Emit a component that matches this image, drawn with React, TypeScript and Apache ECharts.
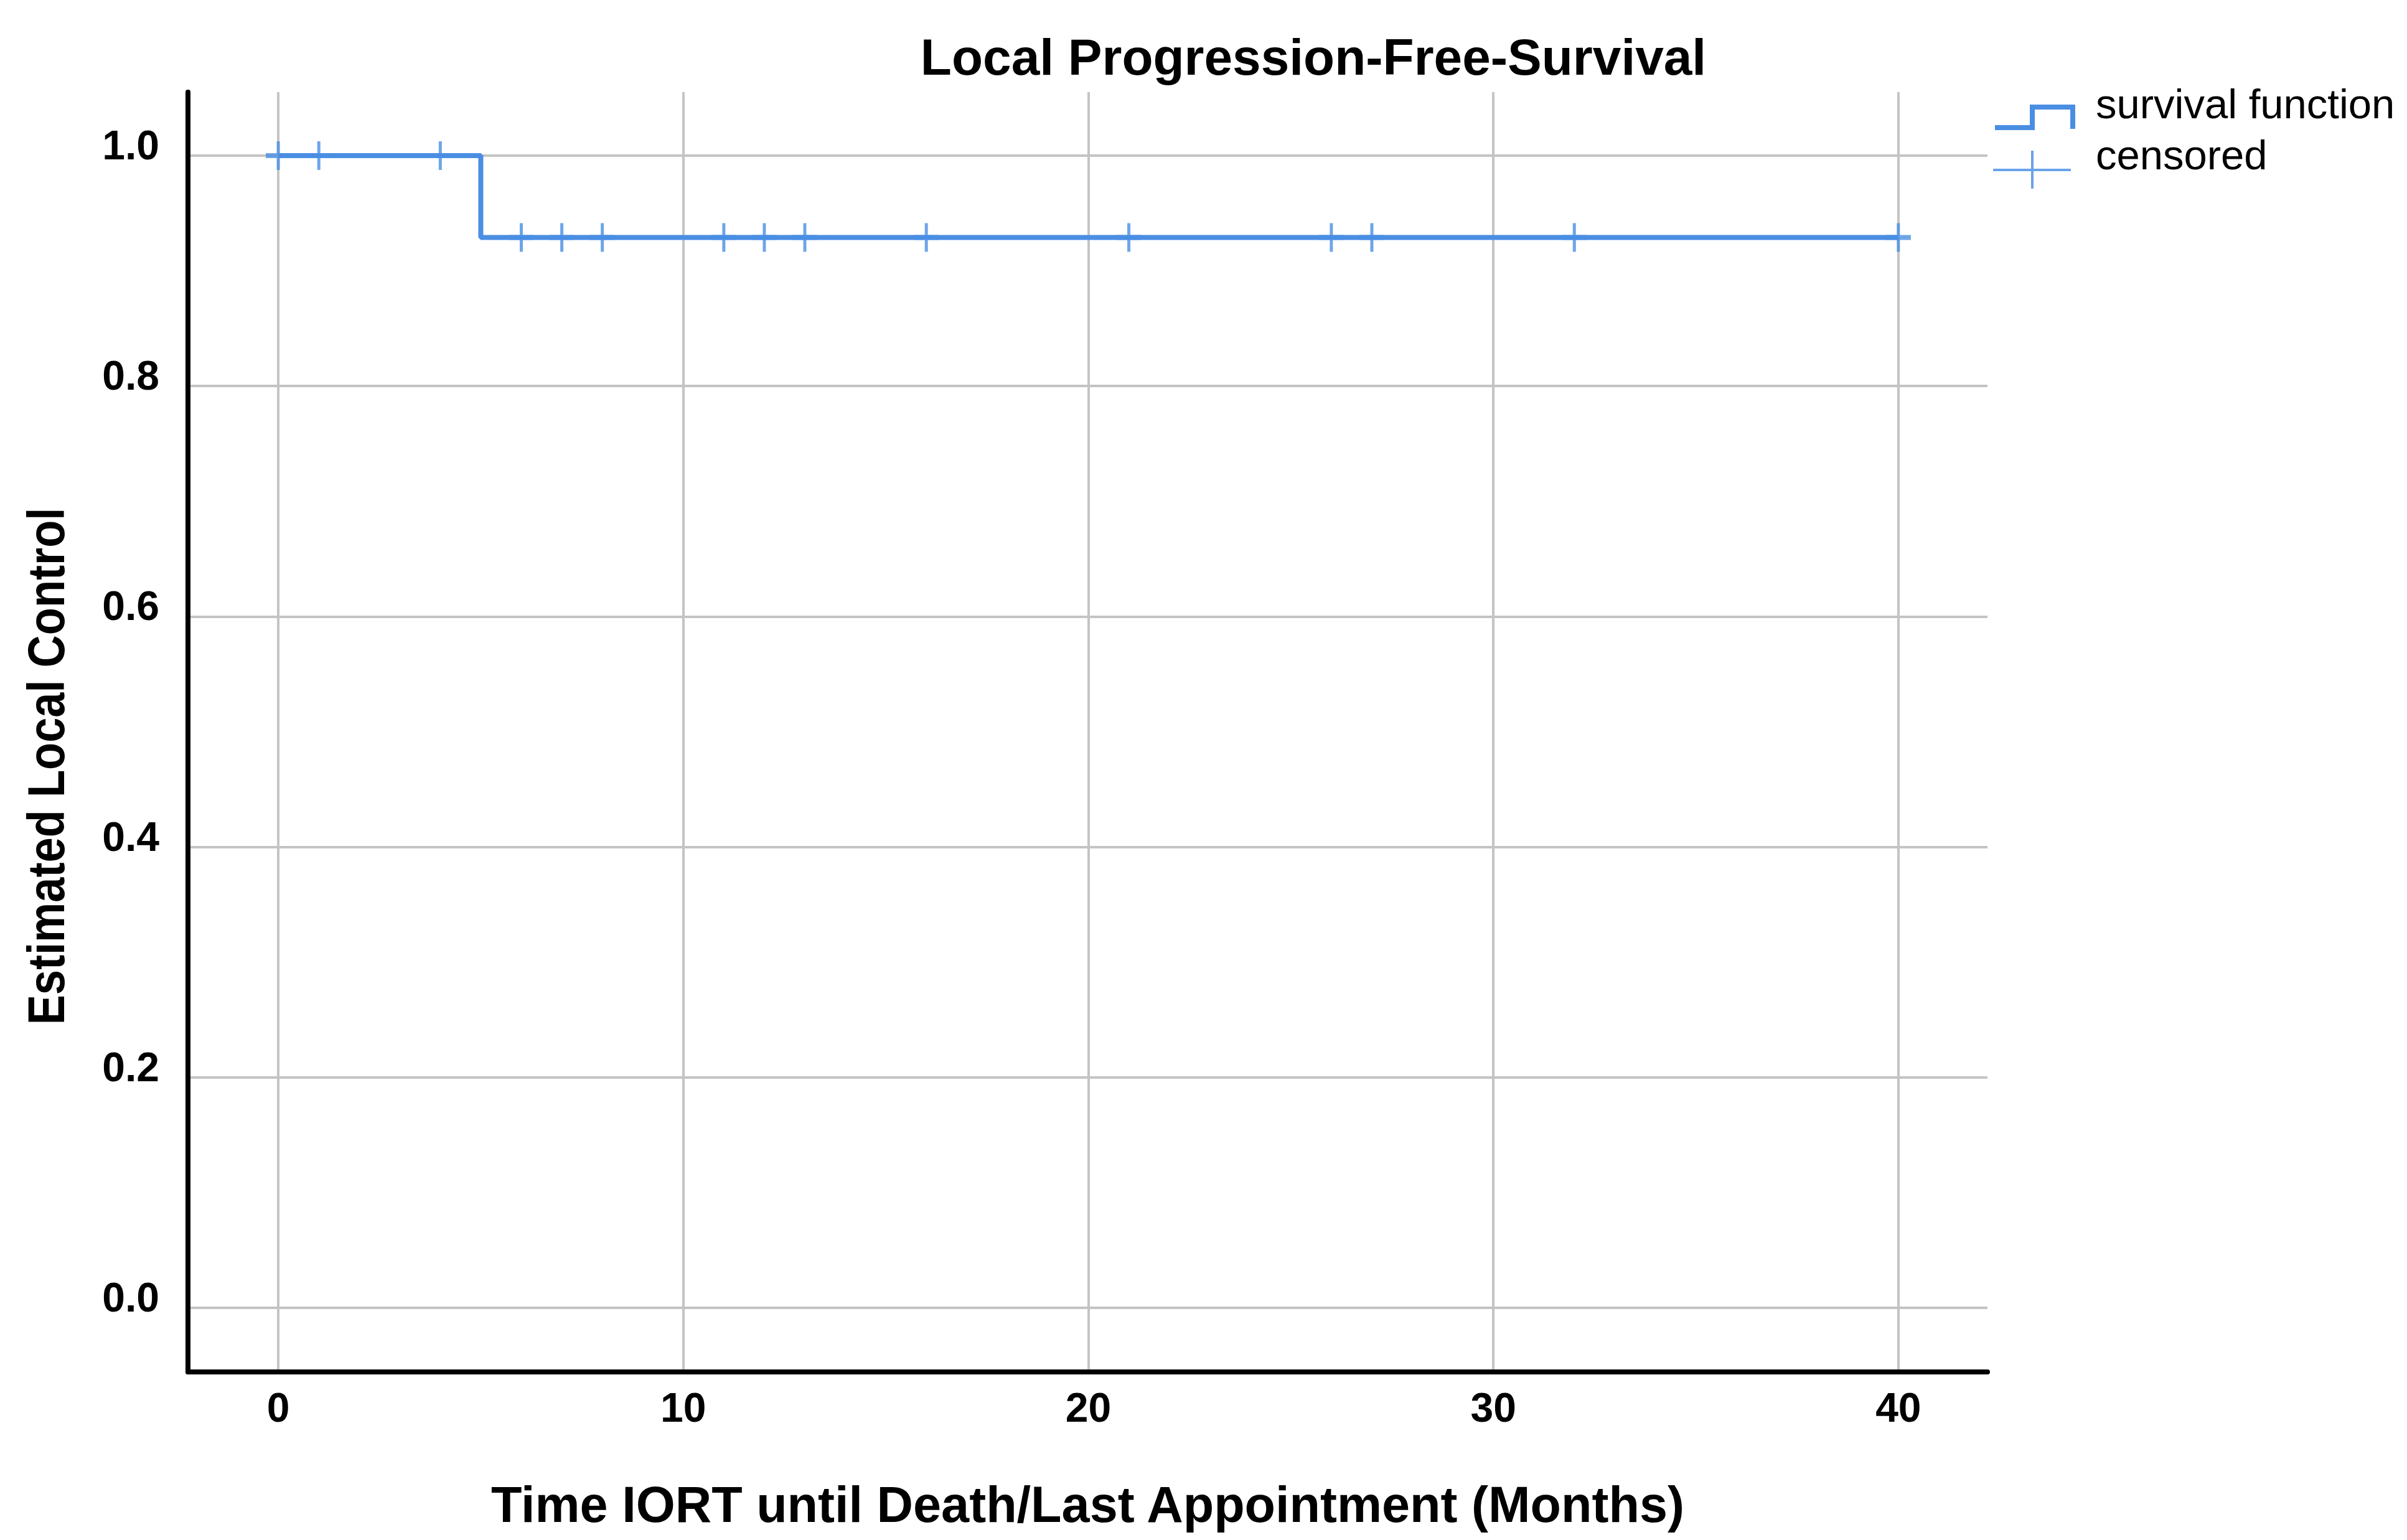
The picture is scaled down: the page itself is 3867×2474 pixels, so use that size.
import React, { useEffect, useRef } from "react";
import * as echarts from "echarts";

const eventTimes = [0, 5, 40];
const survivalValues = [1.0, 0.929, 0.929];
const censoredTimes = [0, 1, 4, 6, 7, 8, 11, 12, 13, 16, 21, 26, 27, 32, 40];
const censoredValues = [1.0, 1.0, 1.0, 0.929, 0.929, 0.929, 0.929, 0.929, 0.929, 0.929, 0.929, 0.929, 0.929, 0.929, 0.929];
const xTicks = [0, 10, 20, 30, 40];
const yTicks = [0, 0.2, 0.4, 0.6, 0.8, 1.0];

const TITLE = "Local Progression-Free-Survival";
const X_NAME = "Time IORT until Death/Last Appointment (Months)";
const Y_NAME = "Estimated Local Control";
const LEGEND_NAMES = ["survival function", "censored"];

const FONT = "'Liberation Sans', Arial, Helvetica, sans-serif";
const BLUE = "#4a8ee3";
const BLUE_LIGHT = "#6aa2ea";
const GRID = "#c4c4c4";

export default function App() {
  const ref = useRef<HTMLDivElement>(null);

  useEffect(() => {
    if (!ref.current) return;
    const chart = echarts.init(ref.current, null, { renderer: "svg" });

    const linePoints = eventTimes.map((t, i) => [t, survivalValues[i]]);
    const censorPoints = censoredTimes.map((t, i) => [t, censoredValues[i]]);

    const option: any = {
      animation: false,
      backgroundColor: "#ffffff",
      title: {
        text: TITLE,
        left: 2110,
        top: 50,
        textAlign: "center",
        padding: 0,
        textStyle: { fontFamily: FONT, fontSize: 82, fontWeight: "bold", color: "#000" },
      },
      grid: { left: 302, top: 148, width: 2891, height: 2056, containLabel: false },
      xAxis: {
        type: "value",
        min: -2.23,
        max: 42.2,
        name: X_NAME,
        nameLocation: "middle",
        nameGap: 172,
        nameTextStyle: { fontFamily: FONT, fontSize: 81, fontWeight: "bold", color: "#000" },
        axisLine: { show: true, onZero: false, lineStyle: { color: "#000", width: 8, cap: "round" } },
        axisTick: { show: false, customValues: xTicks },
        axisLabel: {
          customValues: xTicks,
          margin: 24,
          fontFamily: FONT,
          fontSize: 66,
          fontWeight: "bold",
          color: "#000",
          formatter: (v: number) => String(v),
        },
        splitLine: { show: true, lineStyle: { color: GRID, width: 4 } },
      },
      yAxis: {
        type: "value",
        min: -0.0556,
        max: 1.0551,
        axisLine: { show: true, onZero: false, lineStyle: { color: "#000", width: 8, cap: "round" } },
        axisTick: { show: false, customValues: yTicks },
        axisLabel: {
          customValues: yTicks,
          margin: 46,
          verticalAlign: "bottom",
          lineHeight: 34,
          fontFamily: FONT,
          fontSize: 66,
          fontWeight: "bold",
          color: "#000",
          formatter: (v: number) => v.toFixed(1),
        },
        splitLine: { show: true, lineStyle: { color: GRID, width: 4 } },
      },
      series: [
        {
          name: LEGEND_NAMES[0],
          type: "line",
          step: "end",
          data: linePoints,
          showSymbol: false,
          symbol: "none",
          lineStyle: { color: BLUE, width: 8 },
          z: 3,
        },
        {
          name: LEGEND_NAMES[1],
          type: "scatter",
          data: censorPoints,
          symbol: "path://M17.5 0 H22.5 V19 H40 V27 H22.5 V46 H17.5 V27 H0 V19 H17.5 Z",
          symbolSize: [40, 46],
          itemStyle: { color: BLUE },
          z: 4,
        },
      ],
      graphic: [
        {
          type: "text",
          x: 74,
          y: 1231,
          rotation: Math.PI / 2,
          scaleX: 0.86,
          style: {
            text: Y_NAME,
            align: "center",
            verticalAlign: "middle",
            fontFamily: FONT,
            fontSize: 84,
            fontWeight: "bold",
            fill: "#000",
          },
        },
        {
          type: "polyline",
          shape: { points: [[3205, 205], [3265, 205], [3265, 172], [3330, 172], [3330, 207]] },
          style: { stroke: BLUE, lineWidth: 8, fill: "none" },
        },
        {
          type: "line",
          shape: { x1: 3202, y1: 273, x2: 3327, y2: 273 },
          style: { stroke: BLUE_LIGHT, lineWidth: 4 },
        },
        {
          type: "line",
          shape: { x1: 3265, y1: 242, x2: 3265, y2: 303 },
          style: { stroke: BLUE_LIGHT, lineWidth: 4 },
        },
        {
          type: "text",
          x: 3367,
          y: 166,
          style: {
            text: LEGEND_NAMES[0],
            align: "left",
            verticalAlign: "middle",
            fontFamily: FONT,
            fontSize: 67,
            fill: "#000",
          },
        },
        {
          type: "text",
          x: 3367,
          y: 248,
          style: {
            text: LEGEND_NAMES[1],
            align: "left",
            verticalAlign: "middle",
            fontFamily: FONT,
            fontSize: 67,
            fill: "#000",
          },
        },
      ],
    };

    chart.setOption(option);
    return () => chart.dispose();
  }, []);

  return (
    <div
      ref={ref}
      style={{ position: "fixed", left: 0, top: 0, width: 3867, height: 2474, background: "#fff" }}
    />
  );
}
